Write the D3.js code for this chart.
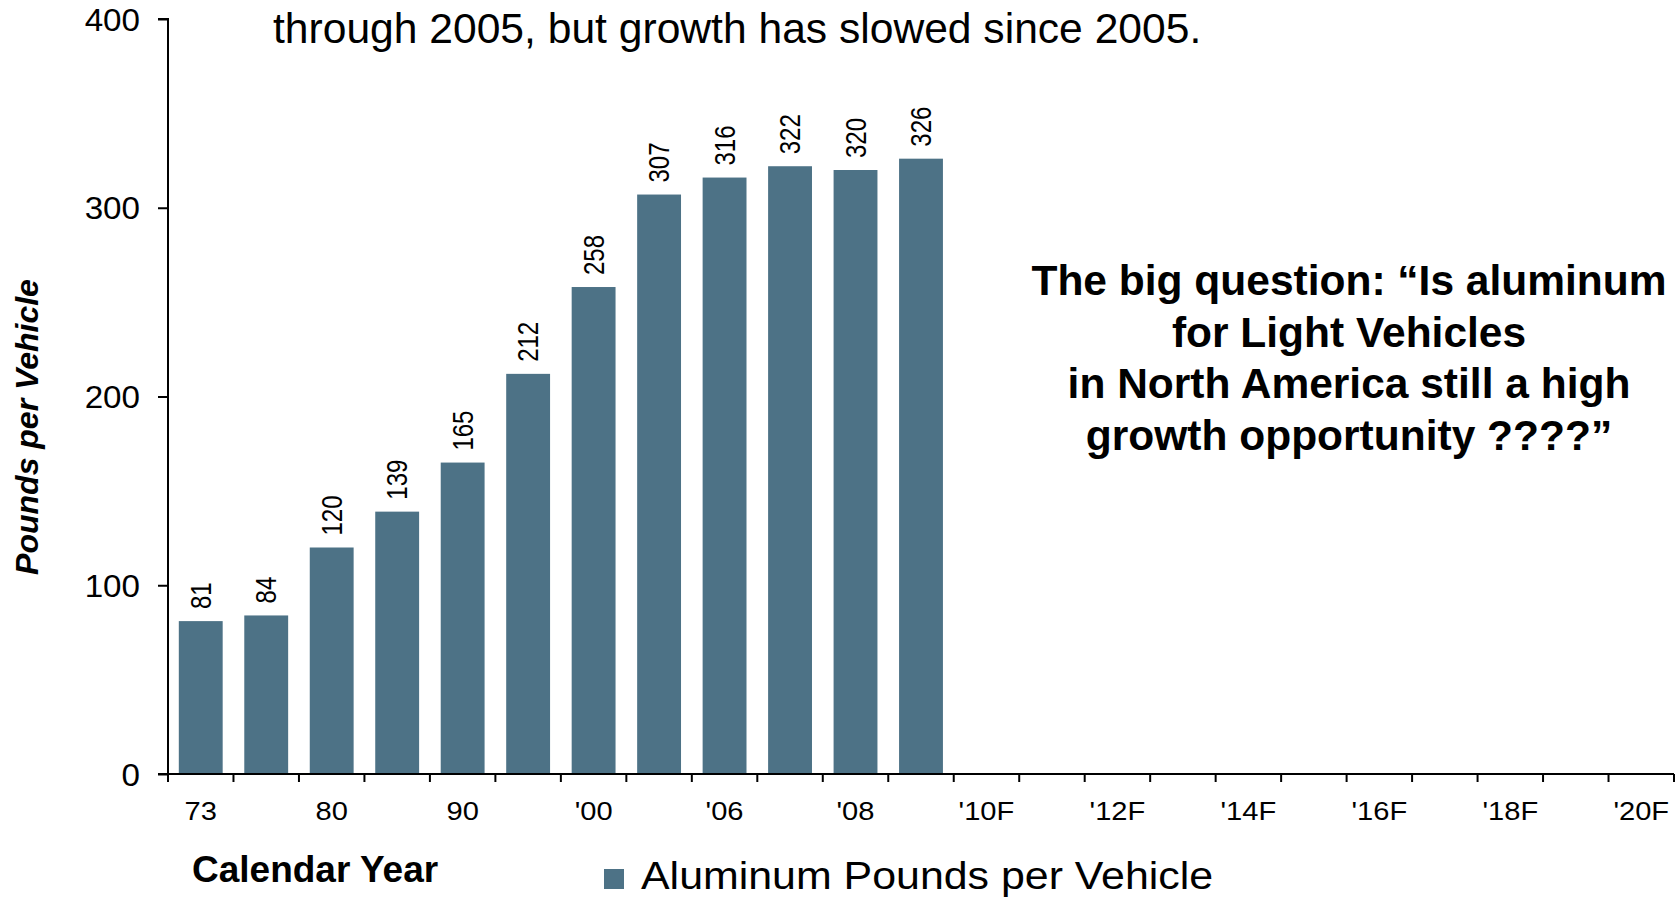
<!DOCTYPE html>
<html>
<head>
<meta charset="utf-8">
<script src="https://cdn.jsdelivr.net/npm/d3@7"></script>
<style>
  html, body { margin: 0; padding: 0; background: #fff; }
  svg { display: block; }
  text { font-family: "Liberation Sans", Arial, sans-serif; fill: #000; }
</style>
</head>
<body>
<svg id="chart" width="1677" height="899"></svg>
<script>
// ---- data ----
const categories = ["73","75","80","85","90","95","'00","'05","'06","'07","'08","'09",
  "'10F","'11F","'12F","'13F","'14F","'15F","'16F","'17F","'18F","'19F","'20F"];
const values = [81, 84, 120, 139, 165, 212, 258, 307, 316, 322, 320, 326];
const shownTickLabels = ["73","80","90","'00","'06","'08","'10F","'12F","'14F","'16F","'18F","'20F"];
const yTicks = [0, 100, 200, 300, 400];
const seriesName = "Aluminum Pounds per Vehicle";
const xTitle = "Calendar Year";
const yTitle = "Pounds per Vehicle";
const headerLine = "through 2005, but growth has slowed since 2005.";
const noteLines = ["The big question: \u201CIs aluminum", "for Light Vehicles",
  "in North America still a high", "growth opportunity ????\u201D"];

(function () {
// ---- layout ----
const svg = d3.select("#chart");
const pLeft = 168, pRight = 1674, pTop = 19, pBottom = 774;
const barColor = "#4d7286";

const x = d3.scaleBand().domain(categories).range([pLeft, pRight])
  .paddingInner(0.33).paddingOuter(0.165);
const y = d3.scaleLinear().domain([0, 400]).range([pBottom, pTop]);

const data = values.map((v, i) => ({ cat: categories[i], v }));

// bars
svg.append("g").selectAll("rect").data(data).join("rect")
  .attr("x", d => x(d.cat))
  .attr("y", d => y(d.v))
  .attr("width", x.bandwidth())
  .attr("height", d => y(0) - y(d.v))
  .attr("fill", barColor);

// value labels (rotated)
svg.append("g").selectAll("text").data(data).join("text")
  .attr("transform", d => `translate(${x(d.cat) + x.bandwidth() / 2},${y(d.v) - 12}) scale(1.2,1) rotate(-90)`)
  .attr("dy", "0.35em")
  .attr("text-anchor", "start")
  .style("font-size", "24px")
  .text(d => d.v);

// y axis
const yAxis = d3.axisLeft(y).tickValues(yTicks).tickSize(10).tickPadding(0).tickFormat(d3.format("d"));
const gy = svg.append("g").attr("transform", `translate(${pLeft},0)`).call(yAxis);
gy.select(".domain").attr("stroke", "#000").attr("stroke-width", 2)
  .attr("d", `M-10,${pTop}H0V${pBottom}`);
gy.selectAll(".tick line").attr("stroke", "#000").attr("stroke-width", 2);
gy.selectAll(".tick text")
  .attr("x", null).attr("dy", null)
  .attr("text-anchor", "end")
  .attr("transform", "translate(-28,11) scale(1.07,1)")
  .style("font-size", "31px").style("font-family", "'Liberation Sans', Arial, sans-serif")
  .attr("fill", "#000");

// x axis: tick marks at band edges
const edges = categories.map(c => x(c) - x.step() * x.paddingInner() / 2).concat([pRight]);
const gx = svg.append("g");
gx.append("line").attr("x1", pLeft - 10).attr("x2", pRight).attr("y1", pBottom).attr("y2", pBottom)
  .attr("stroke", "#000").attr("stroke-width", 2);
gx.selectAll("line.tk").data(edges).join("line").attr("class", "tk")
  .attr("x1", d => d).attr("x2", d => d).attr("y1", pBottom).attr("y2", pBottom + 8)
  .attr("stroke", "#000").attr("stroke-width", 2);

// x tick labels (every other category)
const labelCats = categories.filter((c, i) => i % 2 === 0);
gx.selectAll("text").data(labelCats).join("text")
  .attr("transform", (c, i) => `translate(${x(c) + x.bandwidth() / 2},820) scale(1.12,1)`)
  .attr("text-anchor", "middle")
  .style("font-size", "26px")
  .text((c, i) => shownTickLabels[i]);

// axis titles
svg.append("text")
  .attr("transform", "translate(38,427) rotate(-90)")
  .attr("text-anchor", "middle")
  .style("font-size", "32px").style("font-weight", "bold").style("font-style", "italic")
  .text(yTitle);

svg.append("text")
  .attr("x", 192).attr("y", 882)
  .style("font-size", "37px").style("font-weight", "bold")
  .text(xTitle);

// legend
svg.append("rect").attr("x", 604).attr("y", 869).attr("width", 20).attr("height", 20).attr("fill", barColor);
svg.append("text")
  .attr("transform", "translate(641,889) scale(1.1,1)")
  .style("font-size", "39px")
  .text(seriesName);

// header line (partially cut off slide text)
svg.append("text").attr("x", 273).attr("y", 43)
  .style("font-size", "42.6px")
  .text(headerLine);

// annotation
svg.append("g").selectAll("text").data(noteLines).join("text")
  .attr("x", 1349).attr("y", (d, i) => 295 + i * 51.5)
  .attr("text-anchor", "middle")
  .style("font-size", "42.5px").style("font-weight", "bold")
  .text(d => d);
})();
</script>
</body>
</html>
